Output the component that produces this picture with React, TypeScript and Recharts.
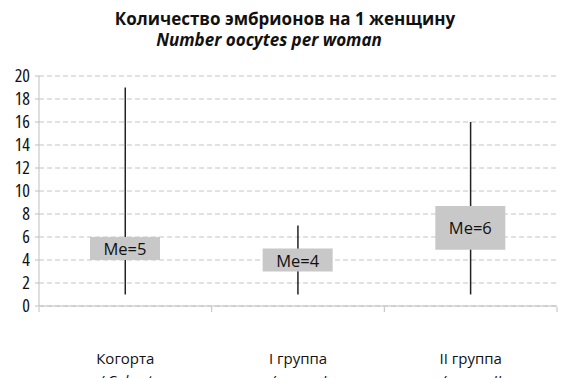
import React from "react";
import { Bar, ComposedChart, CartesianGrid, LabelList, XAxis, YAxis } from "recharts";

const categories = ["Когорта", "I группа", "II группа"];
const categoriesEn = ["/ Cohort", "/ group I", "/ group II"];
const minValues = [1, 1, 1];
const maxValues = [19, 7, 16];
const boxLow = [4, 3, 4.9];
const boxHigh = [6, 5, 8.7];
const medians = [5, 4, 6];
const yTicks = [0, 2, 4, 6, 8, 10, 12, 14, 16, 18, 20];
const boundaryTicks = [0, 1, 2, 3];

const data = categories.map((c, i) => ({
  name: c,
  pos: i + 0.5,
  nameEn: categoriesEn[i],
  whisker: [minValues[i], maxValues[i]],
  box: [boxLow[i], boxHigh[i]],
  me: `Me=${medians[i]}`,
}));

const FONT = "'Open Sans', sans-serif";

const WhiskerShape = (props: any) => {
  const { x, y, width, height } = props;
  const cx = x + width / 2;
  return <line x1={cx} x2={cx} y1={y} y2={y + height} stroke="#222" strokeWidth={1.5} />;
};

const BoundaryTick = (props: any) => {
  const { x, y } = props;
  return <line x1={x} x2={x} y1={y - 1} y2={y + 4} stroke="#bfbfbf" />;
};

const CategoryTick = (props: any) => {
  const { x, y, payload } = props;
  const i = categories.indexOf(payload.value);
  return (
    <g transform={`translate(${x},${y})`}>
      <text x={0} y={19} textAnchor="middle" fontSize={15} fill="#111" fontFamily={FONT}>
        {payload.value}
      </text>
      <text x={0} y={41} textAnchor="middle" fontSize={15} fontStyle="italic" fill="#111" fontFamily={FONT}>
        {categoriesEn[i]}
      </text>
    </g>
  );
};

const MeLabel = (props: any) => {
  const { x, y, width, height, value } = props;
  return (
    <text
      x={x + width / 2}
      y={y + height / 2 + 6.5}
      textAnchor="middle"
      fontSize={16.5}
      fill="#111"
      fontFamily={FONT}
    >
      {value}
    </text>
  );
};

export default function App() {
  return (
    <div style={{ position: "absolute", left: 0, top: 0, width: 566, height: 378, background: "#fff", fontFamily: FONT }}>
      <div style={{ position: "absolute", left: 0, width: 566, top: 8, textAlign: "center", lineHeight: "21px" }}>
        <div style={{ fontWeight: 700, fontSize: 17, color: "#111", paddingLeft: 4 }}>
          Количество эмбрионов на 1 женщину
        </div>
        <div style={{ fontWeight: 700, fontStyle: "italic", fontSize: 17, color: "#111", paddingRight: 28 }}>
          Number oocytes per woman
        </div>
      </div>
      <ComposedChart
        width={566}
        height={378}
        data={data}
        margin={{ top: 76, right: 9, bottom: 0, left: 9 }}
        barGap={0}
      >
        <CartesianGrid xAxisId="cat" vertical={false} stroke="#c4c4c4" strokeDasharray="5 3" />
        <XAxis
          xAxisId="a"
          dataKey="pos"
          type="number"
          domain={[0, 3]}
          allowDataOverflow
          ticks={boundaryTicks}
          interval={0}
          height={1}
          axisLine={{ stroke: "#bfbfbf" }}
          tickLine={false}
          tickSize={0}
          tick={<BoundaryTick />}
        />
        <XAxis
          xAxisId="cat"
          dataKey="name"
          axisLine={false}
          tickLine={false}
          tick={<CategoryTick />}
          height={71}
          interval={0}
        />
        <XAxis xAxisId="box" dataKey="name" hide />
        <YAxis
          domain={[0, 20]}
          ticks={yTicks}
          interval={0}
          width={30}
          axisLine={{ stroke: "#bfbfbf" }}
          tickLine={{ stroke: "#bfbfbf" }}
          tickSize={4}
          tick={{ fontSize: 18, fill: "#111", fontFamily: FONT, dx: -3, style: { fontStretch: "condensed" } }}
        />
        <Bar xAxisId="cat" dataKey="whisker" shape={<WhiskerShape />} isAnimationActive={false} />
        <Bar xAxisId="box" dataKey="box" barSize={70} fill="#c8c8c8" isAnimationActive={false}>
          <LabelList dataKey="me" content={<MeLabel />} />
        </Bar>
      </ComposedChart>
    </div>
  );
}
